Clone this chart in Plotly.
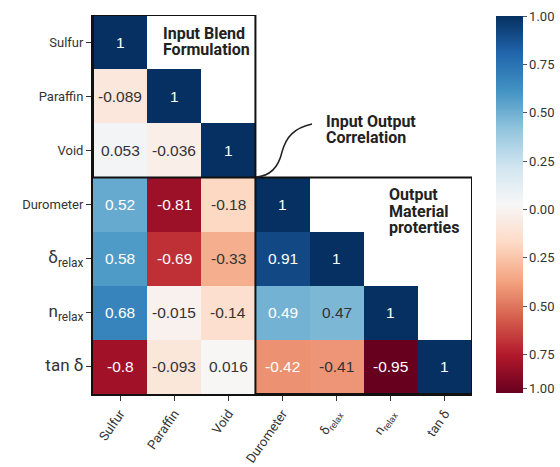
import plotly.graph_objects as go

labels_x = ["Sulfur", "Paraffin", "Void", "Durometer",
            "δ<sub>relax</sub>", "n<sub>relax</sub>", "tan δ"]
labels_y = ["Sulfur", "Paraffin", "Void", "Durometer",
            '<span style="font-size:17px">δ<sub>relax</sub></span>',
            '<span style="font-size:17px">n<sub>relax</sub></span>',
            '<span style="font-size:17px">tan δ</span>']

row_sulfur = [1.0]
row_paraffin = [-0.089, 1.0]
row_void = [0.053, -0.036, 1.0]
row_durometer = [0.52, -0.81, -0.18, 1.0]
row_delta = [0.58, -0.69, -0.33, 0.91, 1.0]
row_n = [0.68, -0.015, -0.14, 0.49, 0.47, 1.0]
row_tan = [-0.8, -0.093, 0.016, -0.42, -0.41, -0.95, 1.0]
rows = [row_sulfur, row_paraffin, row_void, row_durometer, row_delta, row_n, row_tan]

cb_vals = [1, 0.75, 0.5, 0.25, 0, -0.25, -0.5, -0.75, -0.925]
cb_text = ["1.00", "0.75", "0.50", "0.25", "0.00", "0.25", "0.50", "0.75", "1.00"]

n = len(labels_x)
z = [[(r[j] if j < len(r) else None) for j in range(n)] for r in rows]
zmin = min(min(r) for r in rows)
zmax = 1.0

rdbu = [(103, 0, 31), (178, 24, 43), (214, 96, 77), (244, 165, 130),
        (253, 219, 199), (247, 247, 247), (209, 229, 240), (146, 197, 222),
        (67, 147, 195), (33, 102, 172), (5, 48, 97)]
cs = [[i / (len(rdbu) - 1), "rgb(%d,%d,%d)" % c] for i, c in enumerate(rdbu)]


def color_at(v):
    f = (v - zmin) / (zmax - zmin)
    f = min(max(f, 0), 1) * (len(rdbu) - 1)
    i = min(int(f), len(rdbu) - 2)
    t = f - i
    return [rdbu[i][k] + (rdbu[i + 1][k] - rdbu[i][k]) * t for k in range(3)]


def lum(rgb):
    out = []
    for c in rgb:
        c = c / 255
        out.append(c / 12.92 if c <= 0.03928 else ((c + 0.055) / 1.055) ** 2.4)
    return 0.2126 * out[0] + 0.7152 * out[1] + 0.0722 * out[2]


W, H = 560, 467
ML, MR, MT, MB = 93, 88, 15, 73
cell = (W - ML - MR) / n


def dx(px):
    return (px - ML) / cell - 0.5


def dy(py):
    return (py - MT) / cell - 0.5


fig = go.Figure(go.Heatmap(
    z=z, x=list(range(n)), y=list(range(n)),
    colorscale=cs, zmin=zmin, zmax=zmax, xgap=0, ygap=0, hoverongaps=False,
    colorbar=dict(
        x=1.063, xanchor="left", xpad=0, ypad=0, thickness=27,
        lenmode="pixels", len=377, y=0.5, yanchor="middle",
        outlinewidth=0, tickvals=cb_vals, ticktext=cb_text, ticks="outside",
        ticklen=4, tickwidth=1, tickcolor="#555",
        tickfont=dict(family="Roboto", size=13, color="#333"),
    ),
))

annotations = []
for i, r in enumerate(rows):
    for j, v in enumerate(r):
        col = "#333" if lum(color_at(v)) > 0.408 else "white"
        annotations.append(dict(
            x=j, y=i, xref="x", yref="y", text="{:g}".format(v), showarrow=False,
            font=dict(family="Liberation Sans", size=15.5, color=col)))

titles = [
    ("Input Blend", 161, 33),
    ("Formulation", 161, 49),
    ("Input Output", 324, 121),
    ("Correlation", 324, 137),
    ("Output", 387, 194.5),
    ("Material", 387, 211),
    ("proterties", 387, 227.5),
]
for t, px, py in titles:
    annotations.append(dict(
        x=dx(px), y=dy(py), xref="x", yref="y", text="<b>%s</b>" % t,
        showarrow=False, xanchor="left", yanchor="middle",
        font=dict(family="Roboto", size=16, color="#222")))

shapes = [
    dict(type="rect", xref="x", yref="y", x0=-0.5, x1=2.5, y0=-0.5, y1=2.5,
         line=dict(color="#111", width=2)),
    dict(type="rect", xref="x", yref="y", x0=2.5, x1=6.5, y0=2.5, y1=6.5,
         line=dict(color="#111", width=2)),
    dict(type="path", xref="x", yref="y",
         path="M %f,%f C %f,%f %f,%f %f,%f C %f,%f %f,%f %f,%f" % (
             dx(256), dy(177), dx(272), dy(176), dx(279), dy(165), dx(282), dy(152),
             dx(286), dy(137), dx(294), dy(128), dx(312), dy(124)),
         line=dict(color="#222", width=1.5)),
]

fig.update_layout(
    width=W, height=H,
    margin=dict(l=ML, r=MR, t=MT, b=MB, autoexpand=False),
    paper_bgcolor="white", plot_bgcolor="white",
    font=dict(family="Roboto", color="#333"),
    annotations=annotations, shapes=shapes,
    xaxis=dict(
        tickvals=list(range(n)), ticktext=labels_x, tickangle=-55,
        range=[-0.5, n - 0.5], showgrid=False, zeroline=False,
        showline=True, linecolor="#111", linewidth=2,
        ticks="outside", ticklen=5, tickcolor="#333",
        tickfont=dict(family="Roboto", size=13, color="#333"),
    ),
    yaxis=dict(
        tickvals=list(range(n)), ticktext=labels_y,
        range=[n - 0.5, -0.5], showgrid=False, zeroline=False,
        showline=True, linecolor="#111", linewidth=2,
        ticks="outside", ticklen=5, tickcolor="#333",
        tickfont=dict(family="Roboto", size=13, color="#333"),
    ),
)

fig.write_html("out.html", config={"displayModeBar": False},
               post_script="document.body.style.margin='0px';document.body.style.overflow='hidden';")
